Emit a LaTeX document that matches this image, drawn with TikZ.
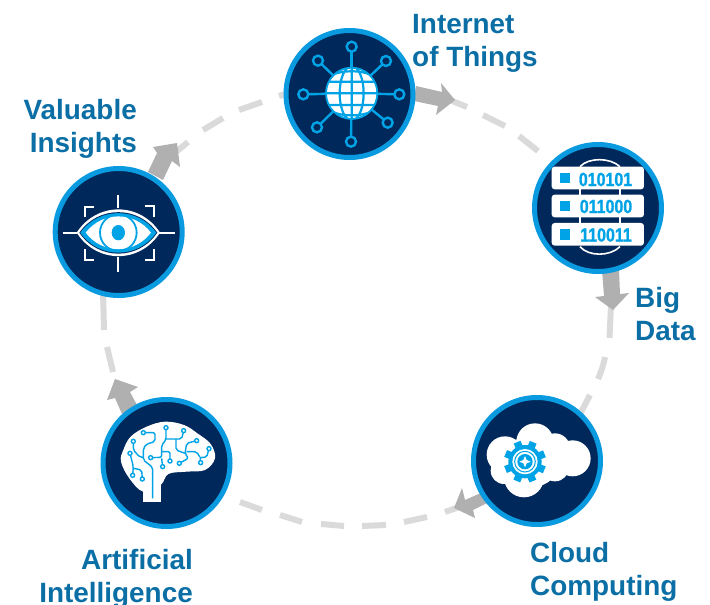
\documentclass[tikz,border=0pt]{standalone}
\usepackage{fontspec}
\setmainfont{Liberation Sans}
\newfontfamily\narrowf{Liberation Sans Bold}[FakeStretch=0.84,FakeBold=1.2]
\definecolor{navy}{HTML}{00285A}
\definecolor{ringblue}{HTML}{0A9ADF}
\definecolor{iconblue}{HTML}{00A3E6}
\definecolor{labelblue}{HTML}{0B6FA6}
\definecolor{arrowgray}{HTML}{B0B0B0}
\definecolor{dashgray}{HTML}{DADADA}
\tikzset{
  hub/.style={circle,draw=ringblue,line width=5pt,fill=navy,minimum size=127pt,inner sep=0pt},
  lbl/.style={font=\fontsize{27.9}{33.5}\selectfont\bfseries,text=labelblue,inner sep=0pt},
  blockarrow/.style={fill=arrowgray,draw=none},
  spoke/.style={draw=iconblue,line width=2.4pt},
  term/.style={draw=iconblue,line width=2.4pt,fill=navy},
  wline/.style={draw=white,line width=1.6pt},
  eyeline/.style={draw=white,line width=1.9pt},
  circuit/.style={draw=iconblue,line width=1.4pt,rounded corners=2pt},
  cterm/.style={draw=iconblue,line width=1.4pt,fill=white},
  bar/.style={fill=white,rounded corners=3pt,draw=none},
  bits/.style={font=\fontsize{19}{19}\narrowf,text=iconblue,inner sep=0pt},
  ringdash/.style={draw=dashgray,line width=6pt}
}
\begin{document}
\begin{tikzpicture}[x=1pt,y=-1pt]
\useasboundingbox (0,0) rectangle (710,605);
% dashed ring: the reference's dashes are spaced unevenly, so each is placed
\draw[ringdash] (440,96) -- (467,107);
\draw[ringdash] (483,115) -- (505,126);
\draw[ringdash] (519,136) -- (538,151);
\draw[ringdash] (611,305) -- (609.5,338);
\draw[ringdash] (605,357) to[bend left=6] (598,379);
\draw[ringdash] (590,395) -- (578,418);
\draw[ringdash] (445,512) -- (465,505);
\draw[ringdash] (404,522) -- (427,517);
\draw[ringdash] (362,526) -- (386,525);
\draw[ringdash] (321,524) -- (344,526);
\draw[ringdash] (280,515) -- (302,522);
\draw[ringdash] (240,502) -- (262,510);
\draw[ringdash] (107,347) -- (113,372);
\draw[ringdash] (103,290) -- (104,330);
\draw[ringdash] (170,157) -- (188,142);
\draw[ringdash] (203,130) -- (223,118);
\draw[ringdash] (239,110) -- (262,102);
\draw[ringdash] (279,96) -- (295,91);
% block arrows
\fill[blockarrow] (416,86) -- (442,92) -- (441,83) -- (455,100) -- (436,115) -- (438,106) -- (414,101) -- cycle;
\fill[blockarrow] (602,270) -- (604,296) -- (595,297) -- (613,310) -- (629,293) -- (620,294) -- (619,270) -- cycle;
\fill[blockarrow] (483,492) -- (465,500) -- (462,488) -- (454,508) -- (475,518) -- (473,510) -- (487,503) -- cycle;
\fill[blockarrow] (122,414) -- (115,398) -- (107,400) -- (115,379) -- (138,387) -- (130,392) -- (137,405) -- cycle;
\fill[blockarrow] (148,172) -- (157,153) -- (153,147) -- (177,143) -- (180,167) -- (172,161) -- (163,180) -- cycle;
% hubs
\node[hub] (iot) at (349.5,94) {};
\node[hub] (data) at (598,208) {};
\node[hub] (cloud) at (537,461) {};
\node[hub] (brain) at (166.5,463) {};
\node[hub] (eye) at (118.7,232) {};
% labels
\node[lbl,anchor=north west,align=left] (l1) at (412,14) {Internet\\of Things};
\node[lbl,anchor=north west,align=left] (l2) at (635,287) {Big\\Data};
\node[lbl,anchor=north west,align=left] (l3) at (530,542) {Cloud\\Computing};
\node[lbl,anchor=north east,align=right] (l4) at (193,549) {Artificial\\Intelligence};
\node[lbl,anchor=north east,align=right] (l5) at (137,99) {Valuable\\Insights};
% IoT icon
\begin{scope}[shift={(270,10)},scale=0.3333]
  \foreach \a/\b in {245/110,100/253,388/253,243/395,348/153,144/152,353/338,141/352}{
    \draw[spoke] (245,250) -- (\a,\b);
    \draw[term] (\a,\b) circle (15);
  }
  \begin{scope}
    \clip (245,250) circle (77);
    \fill[white] (245,250) circle (77);
    \draw[iconblue,line width=2.2pt] (168,250) -- (322,250) (168,215) -- (322,215) (168,285) -- (322,285)
      (245,170) -- (245,330)
      (245,250) ellipse (36 and 82)
      (185,195) .. controls (220,180) and (270,180) .. (305,195)
      (185,305) .. controls (220,320) and (270,320) .. (305,305);
  \end{scope}
  \draw[iconblue,line width=1.8pt] (245,250) circle (77);
\end{scope}
% Big data icon
\begin{scope}[shift={(510,130)},scale=0.3333]
  \draw[wline] (210,110) .. controls (235,82) and (300,82) .. (330,110);
  \draw[wline] (210,350) .. controls (235,380) and (300,380) .. (330,350);
  \draw[wline] (210,170) -- (210,200) (330,170) -- (330,200) (210,260) -- (210,285) (330,260) -- (330,285);
  \fill[bar] (125,110) rectangle (402,178);
  \fill[bar] (125,194) rectangle (402,262);
  \fill[bar] (125,279) rectangle (402,347);
  \fill[iconblue] (150,128) rectangle (181,159);
  \fill[iconblue] (150,213) rectangle (181,244);
  \fill[iconblue] (150,298) rectangle (181,329);
\end{scope}
\node[bits] (b1) at (605.5,179.5) {010101};
\node[bits] (b2) at (606,206.5) {011000};
\node[bits] (b3) at (606,235) {110011};
% Cloud icon
\begin{scope}[shift={(440,380)},scale=0.3333]
  \fill[white] (195,224) circle (55) (285,186) circle (56) (345,205) circle (45)
    (398,235) circle (54) (252,292) circle (60) (192,272) circle (40)
    (345,262) circle (42) (280,240) circle (80);
  \foreach \r in {0,45,...,315}{
    \fill[iconblue,rotate around={\r+22:(255,245)}] (244,182) rectangle (266,210);
  }
  \fill[iconblue] (255,245) circle (50);
  \fill[white] (255,245) circle (38);
  \draw[iconblue,line width=1pt] (255,245) circle (31);
  \fill[iconblue] (255,245) circle (23);
  \fill[white] (255,228) -- (260,240) -- (272,245) -- (260,250) -- (255,262) -- (250,250) -- (238,245) -- (250,240) -- cycle;
\end{scope}
% Brain icon
\begin{scope}[shift={(90,370)},scale=0.3333]
  \fill[white] plot[smooth cycle,tension=0.6] coordinates {
    (212,345) (235,312) (290,305) (345,300) (375,265) (362,222) (322,190) (282,165) (225,155)
    (170,170) (122,200) (100,240) (93,275) (118,325) (160,365)};
  \fill[white] (160,340) rectangle (212,395);
  \draw[circuit] (160,188) -- (195,188) -- (195,215) -- (170,222) -- (160,235) -- (160,270) -- (188,292) -- (188,385);
  \draw[circuit] (228,173) -- (228,210) -- (215,225) -- (215,262) -- (182,263);
  \draw[circuit] (281,182) -- (275,207) -- (228,207);
  \draw[circuit] (130,214) -- (130,240) -- (150,262) -- (160,262);
  \draw[circuit] (120,250) -- (130,290) -- (128,316);
  \draw[circuit] (130,295) -- (155,300) -- (157,327);
  \draw[circuit] (215,265) -- (218,290);
  \draw[circuit] (215,245) -- (240,245) -- (240,273);
  \draw[circuit] (320,212) -- (290,220) -- (285,250) -- (295,265) -- (268,280);
  \draw[circuit] (258,207) -- (258,240) -- (285,250);
  \draw[circuit] (357,236) -- (350,262) -- (330,262) -- (332,278);
  \draw[circuit] (290,245) -- (320,245) -- (330,262);
  \foreach \a/\b in {160/188,228/173,281/182,130/214,120/250,128/316,157/327,182/263,218/290,240/273,320/212,268/280,357/236,332/278}{
    \draw[cterm] (\a,\b) circle (6);
  }
\end{scope}
% Eye icon
\begin{scope}[shift={(40,130)},scale=0.3333]
  \fill[white] (110,308) .. controls (170,215) and (300,215) .. (360,308) .. controls (300,402) and (170,402) .. cycle;
  \fill[navy] (118,308) .. controls (175,226) and (295,226) .. (352,308) .. controls (295,392) and (175,392) .. cycle;
  \fill[iconblue] (121,308) .. controls (177,230) and (293,230) .. (349,308) .. controls (293,388) and (177,388) .. cycle;
  \fill[white] (137,308) .. controls (187,243) and (283,243) .. (333,308) .. controls (283,374) and (187,374) .. cycle;
  \draw[iconblue,line width=1.8pt] (235,308) circle (55);
  \fill[iconblue] (235,308) ellipse (20 and 23);
  \draw[eyeline] (68,310) -- (112,310) (358,310) -- (405,310) (235,195) -- (235,235) (235,380) -- (235,425);
  \draw[eyeline] (163,230) -- (135,230) -- (135,262) (315,228) -- (343,228) -- (343,262)
    (135,358) -- (135,390) -- (163,390) (343,358) -- (343,390) -- (315,390);
\end{scope}
\end{tikzpicture}
\end{document}
